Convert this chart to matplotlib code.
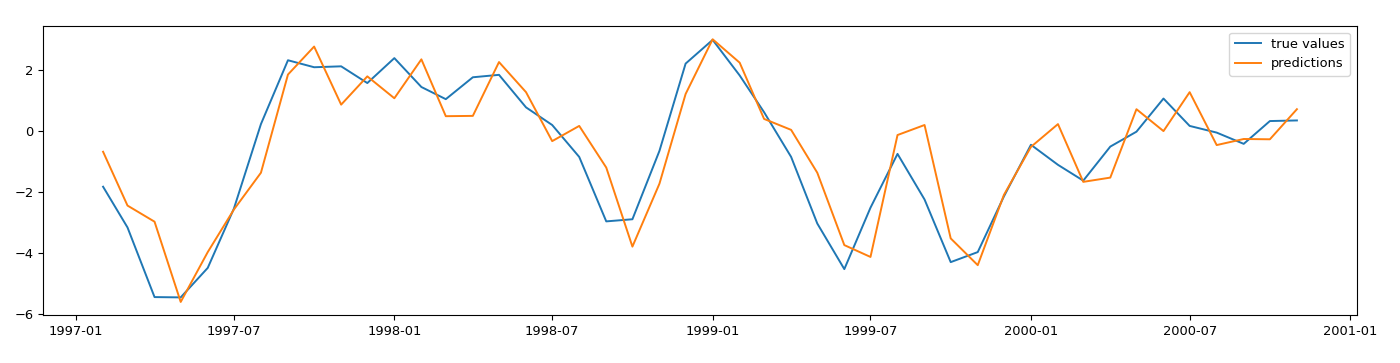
import matplotlib
matplotlib.use("Agg")
import matplotlib.pyplot as plt
import pandas as pd

# monthly dates, Feb 1997 - Nov 2000
dates = pd.date_range("1997-02-01", "2000-11-01", freq="MS")

true_values = [-1.83, -3.17, -5.46, -5.47, -4.50, -2.55, 0.23, 2.33, 2.10, 2.13,
               1.58, 2.40, 1.45, 1.05, 1.77, 1.85, 0.78, 0.20, -0.85, -2.97,
               -2.90, -0.65, 2.22, 3.00, 1.83, 0.62, -0.85, -3.04, -4.54, -2.52,
               -0.75, -2.25, -4.31, -3.98, -2.15, -0.45, -1.11, -1.63, -0.51, -0.02,
               1.07, 0.17, -0.05, -0.42, 0.33, 0.35]

predictions = [-0.68, -2.45, -2.98, -5.62, -3.98, -2.58, -1.37, 1.86, 2.78, 0.87,
               1.80, 1.08, 2.36, 0.49, 0.50, 2.27, 1.28, -0.33, 0.17, -1.20,
               -3.80, -1.73, 1.22, 3.02, 2.25, 0.40, 0.04, -1.37, -3.75, -4.14,
               -0.13, 0.20, -3.53, -4.41, -2.10, -0.52, 0.23, -1.67, -1.53, 0.72,
               0.00, 1.28, -0.46, -0.26, -0.27, 0.72]

plt.rcParams["font.size"] = 9.4
plt.rcParams["lines.linewidth"] = 1.4

fig, ax = plt.subplots(figsize=(14, 3.63), dpi=100)
fig.subplots_adjust(left=0.031, right=0.969, top=0.928, bottom=0.132)

ax.plot(dates, true_values, label="true values")
ax.plot(dates, predictions, label="predictions")
ax.legend()

fig.savefig("out.png")
